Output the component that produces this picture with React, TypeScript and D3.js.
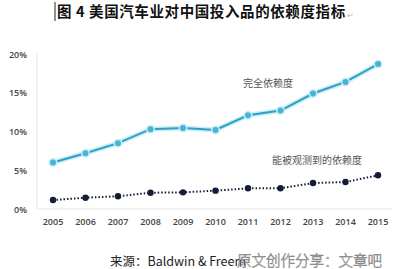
import React from "react";
import * as d3 from "d3";

// years on the x axis
const years = [2005, 2006, 2007, 2008, 2009, 2010, 2011, 2012, 2013, 2014, 2015];
// 完全依赖度 (%)
const totalDependence = [6.0, 7.2, 8.5, 10.3, 10.45, 10.2, 12.1, 12.7, 14.9, 16.4, 18.7];
// 能被观测到的依赖度 (%)
const observedDependence = [1.16, 1.46, 1.64, 2.1, 2.15, 2.37, 2.67, 2.67, 3.35, 3.48, 4.35];
const yTicks = [0, 5, 10, 15, 20];

const title = "图 4 美国汽车业对中国投入品的依赖度指标";
const labelTotal = "完全依赖度";
const labelObserved = "能被观测到的依赖度";
const source = "来源：Baldwin & Freem";
const watermark = "原文创作分享：文章吧";

const width = 400;
const height = 269;

const App = () => {
  const x = d3.scalePoint<number>().domain(years).range([53, 378]);
  const y = d3.scaleLinear().domain([0, 20]).range([209, 54]);

  const line = d3
    .line<number>()
    .x((d, i) => x(years[i]) as number)
    .y((d) => y(d));

  const cjk = "'Noto Sans CJK SC', sans-serif";

  return (
    <svg
      width={width}
      height={height}
      style={{ position: "absolute", left: 0, top: 0, background: "#fff" }}
    >
      {/* title */}
      <line x1={55} x2={55} y1={2} y2={21} stroke="#222" strokeWidth={1} />
      <text
        x={57}
        y={17}
        fontFamily={cjk}
        fontWeight="bold"
        fontSize={14.5}
        letterSpacing={0.6}
        fill="#111"
        style={{ whiteSpace: "pre" }}
      >
        {title}
      </text>
      <text x={347} y={18} fontFamily={cjk} fontSize={8} fill="#bbb">↵</text>

      {/* axes */}
      <line x1={37} x2={37} y1={54} y2={209} stroke="#e4e4e4" />
      <line x1={37} x2={392} y1={209} y2={209} stroke="#e4e4e4" />

      {yTicks.map((t) => (
        <text
          key={t}
          x={27}
          y={y(t) + 3.5}
          textAnchor="end"
          fontFamily="'Open Sans', sans-serif"
          fontWeight={600}
          fontSize={9}
          fill="#444"
        >
          {t}%
        </text>
      ))}
      {years.map((yr) => (
        <text
          key={yr}
          x={x(yr)}
          y={225}
          textAnchor="middle"
          fontFamily="'Open Sans', sans-serif"
          fontWeight={600}
          fontSize={9}
          fill="#444"
        >
          {yr}
        </text>
      ))}

      {/* total dependence line with glow */}
      <path d={line(totalDependence) ?? ""} fill="none" stroke="#c9eef7" strokeWidth={5} />
      <path d={line(totalDependence) ?? ""} fill="none" stroke="#2fa0c2" strokeWidth={2} />
      {totalDependence.map((v, i) => (
        <g key={i}>
          <circle cx={x(years[i])} cy={y(v)} r={4.5} fill="#c9eef7" />
          <circle cx={x(years[i])} cy={y(v)} r={3} fill="#47b4d6" />
        </g>
      ))}

      {/* observed dependence line */}
      <path
        d={line(observedDependence) ?? ""}
        fill="none"
        stroke="#141c3a"
        strokeWidth={2}
        strokeDasharray="1.5 2"
      />
      {observedDependence.map((v, i) => (
        <circle key={i} cx={x(years[i])} cy={y(v)} r={3.2} fill="#141c3a" />
      ))}

      <text x={243} y={87} fontFamily={cjk} fontSize={10} fill="#555">
        {labelTotal}
      </text>
      <text x={272} y={164} fontFamily={cjk} fontSize={10} fill="#555">
        {labelObserved}
      </text>

      {/* source + watermark */}
      <text x={110} y={266} fontFamily={cjk} fontSize={12.5} fill="#222">
        {source}
      </text>
      <text
        x={237}
        y={266}
        fontFamily={cjk}
        fontSize={14.5}
        fill="#fafafa"
        stroke="#777"
        strokeWidth={0.5}
        fontWeight={300}
      >
        {watermark}
      </text>
    </svg>
  );
};

export default App;
